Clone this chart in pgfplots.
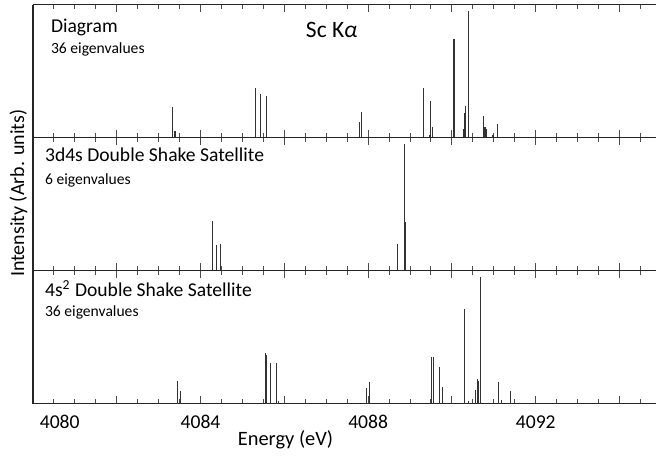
\documentclass[border=0pt]{standalone}
\usepackage{fontspec}
\setmainfont{Carlito}
\usepackage{pgfplots}
\pgfplotsset{compat=1.18}

% one stick spectrum per panel, heights normalised to the tallest line
\pgfplotsset{
  panel/.style={
    scale only axis,
    width=311.55pt, height=66.5pt,
    xmin=4080, xmax=4094.87,
    ymin=0, ymax=1.05,
    axis x line=box, axis y line=left,
    axis line style={line width=0.8pt, black!85, -},
    y axis line style={-},
    ytick=\empty,
    xtick={4080,4082,...,4094},
    minor xtick={4080.5,4081,4081.5,4082.5,4083,4083.5,4084.5,4085,4085.5,
      4086.5,4087,4087.5,4088.5,4089,4089.5,4090.5,4091,4091.5,
      4092.5,4093,4093.5,4094.5},
    xtick align=inside,
    xtick pos=both,
    major tick length=3.6pt, minor tick length=2.4pt,
    every tick/.style={black!70, line width=0.5pt},
    xticklabels={},
    /pgf/number format/assume math mode=true,
  },
  stick/.style={ycomb, black!80, line width=0.55pt, mark=none},
}
\tikzset{
  ptitle/.style={anchor=base west, font=\fontsize{9.8pt}{11pt}\selectfont},
  psub/.style={anchor=base west, font=\fontsize{7.8pt}{9pt}\selectfont},
}

\begin{document}
\begin{tikzpicture}
\useasboundingbox (0pt,0pt) rectangle (328pt,-227.5pt);

% Diagram
\begin{axis}[panel, at={(16.45pt,-2.25pt)}, anchor=north west]
\addplot[stick] coordinates {
  (4083.34,0.24) (4083.39,0.05)
  (4085.32,0.39) (4085.43,0.34) (4085.57,0.33)
  (4087.80,0.12) (4087.84,0.20)
  (4089.33,0.39) (4089.47,0.02) (4089.49,0.29) (4089.53,0.08)
  (4090.05,0.78) (4090.27,0.07) (4090.31,0.19) (4090.33,0.25) (4090.39,1.00)
  (4090.76,0.17) (4090.79,0.08) (4090.83,0.07) (4090.98,0.02) (4091.08,0.11)
};
\node[ptitle, xshift=5.55pt, yshift=-13.9pt] at (rel axis cs:0,1) {Diagram};
\node[psub, xshift=5.55pt, yshift=-24.4pt] at (rel axis cs:0,1) {36 eigenvalues};
\node[anchor=base west, font=\fontsize{11.75pt}{13pt}\selectfont, xshift=133pt, yshift=-16.25pt]
  at (rel axis cs:0,1) {Sc K\textit{α}};
\end{axis}

% 3d4s double shake satellite
\begin{axis}[panel, at={(16.45pt,-68.75pt)}, anchor=north west]
\addplot[stick] coordinates {
  (4084.29,0.39) (4084.38,0.20) (4084.48,0.21)
  (4088.71,0.21) (4088.86,1.00) (4088.89,0.38)
};
\node[ptitle, xshift=2.55pt, yshift=-12.1pt] at (rel axis cs:0,1) {3d4s Double Shake Satellite};
\node[psub, xshift=2.55pt, yshift=-23.4pt] at (rel axis cs:0,1) {6 eigenvalues};
\end{axis}

% 4s^2 double shake satellite
\begin{axis}[panel, at={(16.45pt,-135.25pt)}, anchor=north west,
  xticklabels={,,4084,,4088,,4092,},
  extra x ticks={4080.64}, extra x tick labels={4080},
  extra x tick style={major tick length=0pt},
  xticklabel style={anchor=base, yshift=-12.4pt, font=\fontsize{9.8pt}{11pt}\selectfont},
]
\addplot[stick] coordinates {
  (4083.45,0.18) (4083.53,0.10)
  (4085.54,0.40) (4085.58,0.38) (4085.66,0.32) (4085.68,0.21) (4085.82,0.32) (4085.86,0.02)
  (4087.96,0.12) (4088.03,0.17)
  (4089.52,0.37) (4089.56,0.37) (4089.71,0.29) (4089.78,0.13)
  (4090.31,0.75) (4090.40,0.02) (4090.57,0.11) (4090.60,0.19) (4090.64,0.18) (4090.68,1.00)
  (4091.11,0.17) (4091.18,0.03) (4091.40,0.10)
};
\node[ptitle, xshift=2.55pt, yshift=-13.1pt] at (rel axis cs:0,1) {4s\textsuperscript{2} Double Shake Satellite};
\node[psub, xshift=2.55pt, yshift=-23.1pt] at (rel axis cs:0,1) {36 eigenvalues};
\end{axis}

\node[rotate=90, anchor=base, font=\fontsize{10pt}{12pt}\selectfont] at (12pt,-96.65pt) {Intensity (Arb. units)};
\node[anchor=base, font=\fontsize{10.2pt}{12pt}\selectfont] at (142.75pt,-222.5pt) {Energy (eV)};
\end{tikzpicture}
\end{document}
